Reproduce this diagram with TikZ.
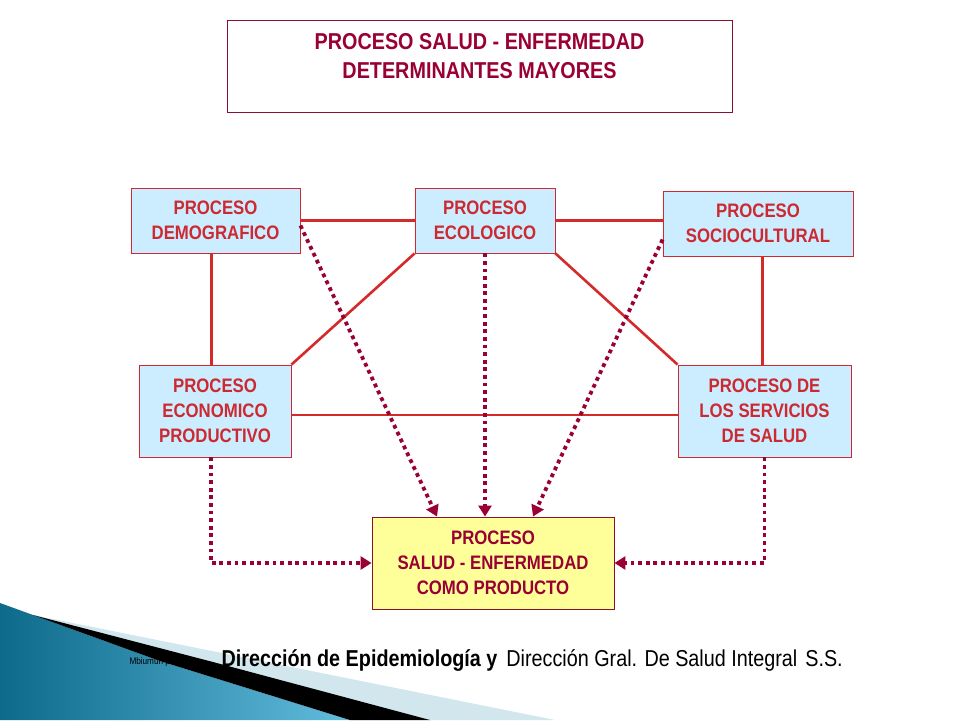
\documentclass[tikz,border=0pt]{standalone}
\usepackage{fontspec}
\newfontfamily\narrowfont[FakeStretch=0.86]{Liberation Sans}
\usepackage{xcolor}
\usepackage{tikz}
\usetikzlibrary{positioning, arrows.meta, calc}

\definecolor{boxblue}{HTML}{CCECFF}
\definecolor{boxyellow}{HTML}{FFFF99}
\definecolor{boxred}{HTML}{CC2A30}
\definecolor{linkred}{HTML}{D42A2A}
\definecolor{wine}{HTML}{990033}
\definecolor{framewine}{HTML}{8A1030}
\definecolor{stripeblue}{HTML}{D2E6EE}
\definecolor{tealdark}{HTML}{0D6A8A}
\definecolor{teallight}{HTML}{62BCDD}

\begin{document}
\begin{tikzpicture}[
    x=1pt, y=-1pt,
    proc box/.style={draw=boxred, fill=boxblue, line width=0.9pt, inner sep=0pt,
        align=center, text=boxred, font=\narrowfont\bfseries\fontsize{19.5}{25}\selectfont},
    result box/.style={proc box, draw=framewine, fill=boxyellow, text=wine},
    link/.style={linkred, line width=2.6pt},
    flow/.style={wine, line width=3.8pt, dash pattern=on 3.8pt off 3.8pt,
        -{Triangle[length=11pt, width=13pt]}}
]
\useasboundingbox (0,0) rectangle (960,720);

% --- 1. Title ---
\draw[framewine, line width=0.9pt] (227,20) rectangle (732,112);
\node[text=wine, align=center, font=\narrowfont\bfseries\fontsize{23}{29}\selectfont]
    (title) at (479.5,56.5) {PROCESO SALUD - ENFERMEDAD\\DETERMINANTES MAYORES};

% --- 2. Process boxes ---
\node[proc box, minimum width=169pt, minimum height=65pt] (demo) at (215.5,220.5) {PROCESO\\DEMOGRAFICO};
\node[proc box, minimum width=140pt, minimum height=65pt] (eco) at (485,220.5) {PROCESO\\ECOLOGICO};
\node[proc box, minimum width=190pt, minimum height=65pt] (socio) at (758,223.5) {PROCESO\\SOCIOCULTURAL};
\node[proc box, minimum width=152pt, minimum height=92pt] (econ) at (215,411) {PROCESO\\ECONOMICO\\PRODUCTIVO};
\node[proc box, minimum width=173pt, minimum height=92pt] (serv) at (764.5,411) {PROCESO DE\\LOS SERVICIOS\\DE SALUD};
\node[result box, minimum width=242pt, minimum height=92pt] (prod) at (493,563) {PROCESO\\SALUD - ENFERMEDAD\\COMO PRODUCTO};

% --- 3. Solid links ---
\draw[link] (demo.east) -- (eco.west);
\draw[link] (eco.east) -- (eco.east -| socio.west);
\draw[link] ([xshift=-4pt]demo.south) -- ([xshift=-4pt]demo.south |- econ.north);
\draw[link] ([xshift=-2pt]serv.north) -- ([xshift=-2pt]serv.north |- socio.south);
\draw[link] (eco.south west) -- (econ.north east);
\draw[link] (eco.south east) -- (serv.north west);
\draw[link] ([yshift=-4pt]econ.east) -- ([yshift=-4pt]econ.east -| serv.west);

% --- 4. Dotted flows into the product ---
\draw[flow] ([yshift=-5pt]demo.east) -- ([xshift=-56pt]prod.north);
\draw[flow] (eco.south) -- (eco.south |- prod.north);
\draw[flow] ([yshift=-16pt]socio.west) -- ([xshift=40pt]prod.north);
\draw[flow] ([xshift=-4pt]econ.south) |- (prod.west);
\draw[flow] (serv.south) |- (prod.east);

% --- 5. Footer swoosh and credits ---
\fill[stripeblue] (33,615) -- (555,720) -- (430,720) -- cycle;
\shade[left color=tealdark, right color=teallight]
    (0,603) -- (160,661) -- (350,720) -- (0,720) -- cycle;
\node[anchor=west, text=black, font=\narrowfont\fontsize{9.5}{10}\selectfont]
    (credit) at (126,662) {Mbiumun psoet};
\fill[black] (33,615) -- (213,662) -- (430,720) -- (350,720) -- (160,661) -- cycle;
\node[anchor=west, text=black, font=\narrowfont\fontsize{23}{26}\selectfont]
    (footer) at (218,660) {\textbf{Dirección de Epidemiología y}\hspace{9pt}Dirección Gral. De Salud Integral\hspace{8pt}S.S.};

\end{tikzpicture}
\end{document}
